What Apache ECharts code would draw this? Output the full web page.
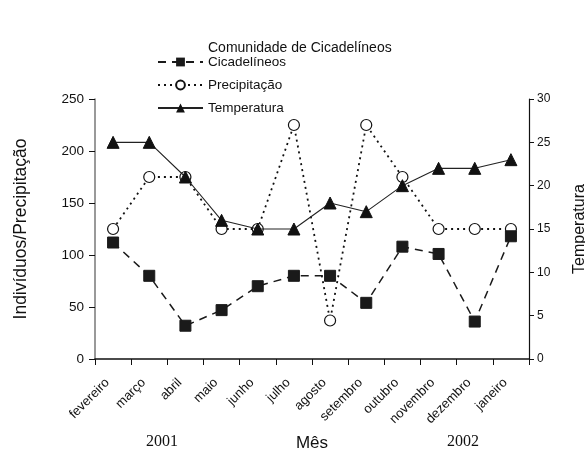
<!DOCTYPE html>
<html><head><meta charset="utf-8">
<script src="https://cdn.jsdelivr.net/npm/echarts@6/dist/echarts.min.js"></script>
<style>html,body{margin:0;padding:0;background:#fff}#c{width:585px;height:457px}</style>
</head><body><div id="c"></div>
<script>
const months = ['fevereiro','março','abril','maio','junho','julho','agosto','setembro','outubro','novembro','dezembro','janeiro'];
const cicadelineos = [112, 80, 32, 47, 70, 80, 80, 54, 108, 101, 36, 118];
const precipitacao = [125, 175, 175, 125, 125, 225, 37, 225, 175, 125, 125, 125];
const temperatura = [25, 25, 21, 16, 15, 15, 18, 17, 20, 22, 22, 23];
const leftTicks = [0, 250, 50];
const rightTicks = [0, 30, 5];

const F = 'Liberation Sans, Arial, sans-serif';
const chart = echarts.init(document.getElementById('c'));
chart.setOption({
  backgroundColor: '#fff',
  animation: false,
  title: { text: 'Comunidade de Cicadelíneos', left: 203, top: 36, textStyle: { fontFamily: F, fontSize: 14, fontWeight: 'normal', color: '#111' } },
  legend: {
    orient: 'vertical', left: 152, top: 50, itemWidth: 45, itemHeight: 11, itemGap: 9,
    textStyle: { fontFamily: F, fontSize: 13.5, color: '#111' },
    data: ['Cicadelíneos', 'Precipitação', 'Temperatura']
  },
  grid: { left: 95, right: 56, top: 99, bottom: 98, containLabel: false, outerBoundsMode: 'none' },
  xAxis: {
    type: 'category', data: months, boundaryGap: true,
    axisLine: { lineStyle: { color: '#111', width: 1.5 } },
    axisTick: { show: true, length: 6, lineStyle: { color: '#111' } },
    axisLabel: { rotate: 45, fontFamily: F, fontSize: 13, color: '#111', margin: 16, padding: [0, 8, 0, 0], interval: 0 },
    name: 'Mês', nameLocation: 'middle', nameGap: 76,
    nameTextStyle: { fontFamily: F, fontSize: 17, color: '#111' }
  },
  yAxis: [{
    type: 'value', min: leftTicks[0], max: leftTicks[1], interval: leftTicks[2],
    splitLine: { show: false },
    axisLine: { show: true, lineStyle: { color: '#777', width: 1.5 } },
    axisTick: { show: true, length: 6, lineStyle: { color: '#111' } },
    axisLabel: { fontFamily: F, fontSize: 13.5, color: '#111', margin: 11 },
    name: 'Indivíduos/Precipitação', nameLocation: 'middle', nameGap: 65,
    nameTextStyle: { fontFamily: F, fontSize: 17.5, color: '#111' }
  }, {
    type: 'value', min: rightTicks[0], max: rightTicks[1], interval: rightTicks[2], position: 'right',
    splitLine: { show: false },
    axisLine: { show: true, lineStyle: { color: '#111', width: 1.2 } },
    axisTick: { show: true, length: 5, lineStyle: { color: '#111' } },
    axisLabel: { fontFamily: F, fontSize: 12, color: '#111', margin: 8 },
    name: 'Temperatura', nameLocation: 'middle', nameGap: 43, nameRotate: 90,
    nameTextStyle: { fontFamily: F, fontSize: 16, color: '#111' }
  }],
  series: [{
    name: 'Cicadelíneos', type: 'line', data: cicadelineos, yAxisIndex: 0,
    symbol: 'rect', symbolSize: 11,
    itemStyle: { color: '#1a1a1a', borderColor: '#1a1a1a' },
    lineStyle: { color: '#1a1a1a', width: 1.5, type: [8, 6] }, z: 3
  }, {
    name: 'Precipitação', type: 'line', data: precipitacao, yAxisIndex: 0,
    symbol: 'circle', symbolSize: 11,
    itemStyle: { color: '#fff', borderColor: '#111', borderWidth: 1.2 },
    lineStyle: { color: '#111', width: 1.8, type: [2, 4] }, z: 2
  }, {
    name: 'Temperatura', type: 'line', data: temperatura, yAxisIndex: 1,
    symbol: 'triangle', symbolSize: 12,
    itemStyle: { color: '#111', borderColor: '#111' },
    lineStyle: { color: '#222', width: 1.1 }, z: 4
  }],
  graphic: [
    { type: 'text', left: 146, top: 434, style: { text: '2001', font: '16px "Liberation Serif", "Times New Roman", serif', fill: '#111' } },
    { type: 'text', left: 447, top: 434, style: { text: '2002', font: '16px "Liberation Serif", "Times New Roman", serif', fill: '#111' } }
  ]
});
</script></body></html>
